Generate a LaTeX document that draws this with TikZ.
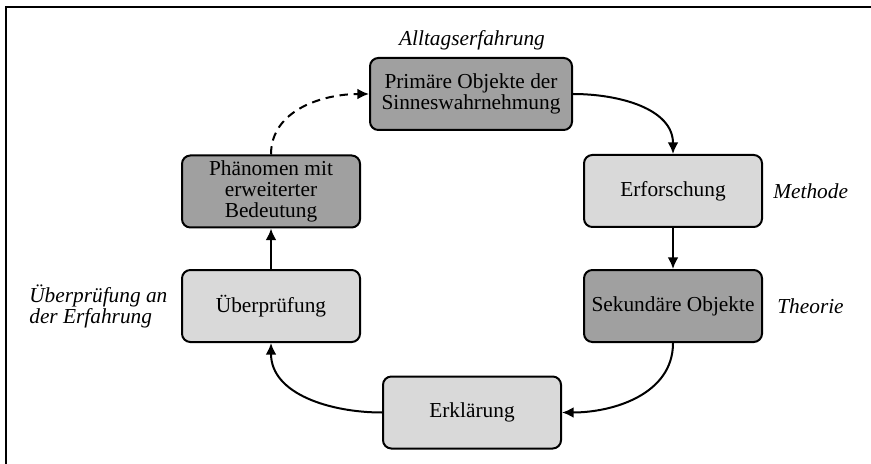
\documentclass[tikz,border=0pt]{standalone}
\usepackage{fontspec}
\setmainfont{Liberation Serif}
\usetikzlibrary{positioning, arrows.meta}
\definecolor{dunkelgrau}{HTML}{A0A0A0}
\definecolor{hellgrau}{HTML}{D9D9D9}
\tikzset{
    kasten/.style={
        draw=black,            % schwarze Kontur
        rounded corners=5pt,
        line width=1.2pt,
        minimum width=106.8pt,
        minimum height=43.2pt,
        align=center,
        inner sep=2pt,
        font=\fontsize{12.8}{12.6}\selectfont
    },
    dunkel/.style={kasten, fill=dunkelgrau},
    hell/.style={kasten, fill=hellgrau},
    notiz/.style={
        font=\fontsize{12.8}{12.6}\selectfont\itshape,
        align=left,
        inner sep=0pt
    },
    pfeil/.style={
        line width=1.2pt,
        -{Latex[length=7pt,width=6.5pt]}
    }
}

\begin{document}
\begin{tikzpicture}[x=0.6pt, y=-0.6pt]

    % Bildgröße wie die Vorlage
    \useasboundingbox (0,0) rectangle (871,464);

    % Rahmen oben und links
    \draw[line width=1.2pt] (871,7.5) -- (6,7.5) -- (6,464);

    % Kästen des Kreislaufs
    \node[dunkel, minimum width=121.2pt] (prim) at (471,94)
        {Primäre Objekte der\\Sinneswahrnehmung};
    \node[hell]   (erf)   at (673,191) {Erforschung};
    \node[dunkel] (sek)   at (673,306) {Sekundäre Objekte};
    \node[hell]   (erkl)  at (472,412.5) {Erklärung};
    \node[hell]   (ueb)   at (271,306) {Überprüfung};
    \node[dunkel] (phaen) at (271,191.5) {Phänomen mit\\erweiterter\\Bedeutung};

    % Beschriftungen (kursiv)
    \node[notiz] (alltag)  at (472,40) {Alltagserfahrung};
    \node[notiz, anchor=west] (methode) at (773,191) {Methode};
    \node[notiz, anchor=west] (theorie) at (777,306) {Theorie};
    \node[notiz, anchor=west] (pruef)   at (29,306)
        {Überprüfung an\\der Erfahrung};

    % Pfeile
    \draw[pfeil] (prim.east) to[out=0, in=90] (erf.north);
    \draw[pfeil] (erf) -- (sek);
    \draw[pfeil] (sek.south) to[out=-90, in=0] (erkl.east);
    \draw[pfeil] (erkl.west) to[out=180, in=-90] (ueb.south);
    \draw[pfeil] (ueb) -- (phaen);
    \draw[pfeil, dash pattern=on 5pt off 3.5pt] (phaen.north) to[out=90, in=180] (prim.west);

\end{tikzpicture}
\end{document}
